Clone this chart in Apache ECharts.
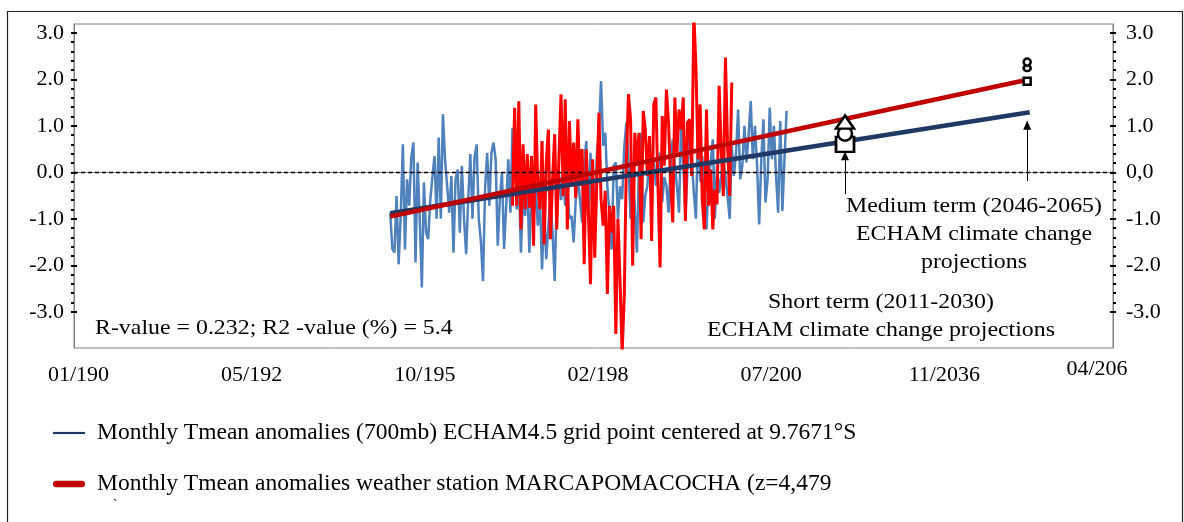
<!DOCTYPE html>
<html>
<head>
<meta charset="utf-8">
<script src="https://cdn.jsdelivr.net/npm/echarts@6/dist/echarts.min.js"></script>
<style>
  html, body { margin: 0; padding: 0; background: #fff; }
  #chart { width: 1184px; height: 522px; }
</style>
</head>
<body>
<div id="chart"></div>
<script>
// x axis: days since 01/01/1900, one label every 10000 days
const xTickLabels = ["01/190", "05/192", "10/195", "02/198", "07/200", "11/2036", "04/206"];
const yTicks = [-3, -2, -1, 0, 1, 2, 3];
const yMinorTicks = [-3, -2.8, -2.6, -2.4, -2.2, -2, -1.8, -1.6, -1.4, -1.2, -1, -0.8, -0.6, -0.4, -0.2, 0,
  0.2, 0.4, 0.6, 0.8, 1, 1.2, 1.4, 1.6, 1.8, 2, 2.2, 2.4, 2.6, 2.8, 3];

const blueName = "Monthly Tmean anomalies (700mb) ECHAM4.5 grid point centered at 9.7671°S";
const redName = "Monthly Tmean anomalies weather station MARCAPOMACOCHA (z=4,479";

// ECHAM4.5 anomalies, every 4 months from 01/1950
const blueStart = [1950, 1];
const blueStepMonths = 4;
const blueValues = [
  -0.87, -1.65, -1.73, -0.51, -1.98, -0.9, 0.6, -1.66, -0.15, -0.72, 0.32, 0.64, -1.94, 0.21, -1.0, -2.48,
  -0.22, -1.3, -1.44, -0.6, -0.11, 0.35, -1.0, 0.75, -1.0, 1.25, 0.28, -0.3, -0.87, -0.08, -1.73, -0.15,
  0.06, -1.3, 0.14, -1.0, -1.76, -0.58, 0.39, -1.0, 0.32, 0.6, -1.0, -1.48, -2.34, -0.33, 0.42,
  -0.72, 0.42, 0.64, 0.28, -1.58, -0.58, 0.0, -1.65, -0.72, 0.28,
  -0.87, 0.96, 0.71, -0.8, -0.1, -1.73, -0.5, -0.94, -0.2, -1.73,
  -0.44, -1.0, -0.3, -1.15, -0.5, -2.09, -0.8, -1.87, -1.15, -0.6,
  -1.3, -2.34, -0.5, 0.0, -0.6, -0.15, -0.72, -0.3, -1.0, -0.94,
  -1.51, -0.6, -0.08, -0.6, -1.08, 0.2, 0.67, -1.0, 0.42, -1.0,
  -1.0, 0.35, 0.9, 1.96, 0.57, 0.85, -0.3, -0.9, -1.66, 0.14,
  0.21, -1.0, -0.3, -0.58, 0.53, 1.07, 0.2, -1.0, 0.06, -0.8,
  -1.73, 0.2, 0.85, -1.08, -0.5, -0.29, 0.57, 0.1, 0.28, -0.29,
  0.1, 0.42, -0.65, -0.1, -0.29, -0.87, 0.2, 0.71, 0.14, -0.3,
  -0.87, 1.14, 0.2, -1.0, 0.1, 1.07, 0.3, -0.44, -1.0, 1.0, -0.2,
  0.35, -0.6, -1.23, -0.15, 0.21, 0.71, -1.0, 0.14, -0.44, -0.1,
  0.28, -0.08, -0.5, -1.0, 0.57, -0.08, 0.4, 1.35, -0.15, 0.14,
  1.0, 0.21, 0.8, 1.53, 0.28, 1.0, 0.14, -1.12, 0.28, 1.14,
  -0.65, -0.15, 1.39, 0.28, 1.0, -0.08, -0.87, 1.1, -0.83, 0.28, 1.32
];

// station anomalies, every 4 months from 05/1969
const redStart = [1969, 5];
const redStepMonths = 4;
const redValues = [
  -0.72, 1.39, -0.72, 1.53, -1.23, 0.6, -0.79, 0.39, -0.76, 0.35,
  -1.58, 1.46, -0.29, -0.79, 0.67, -1.55, 0.2, 0.92, -1.44, -0.15,
  0.82, -1.23, 0.3, 1.68, -0.51, 1.57, -1.23, 1.1, -0.29, 0.64,
  -0.55, 1.14, -0.29, 0.5, -1.98, 0.49, -0.87, -2.41, 0.28, -1.84,
  -0.2, 1.28, -0.58, -1.15, -0.4, -2.62, -0.72, -1.3, -0.72, -3.48,
  -1.0, -2.3, -3.9, -2.66, 0.2, 1.68, 1.14, -2.01, 0.85, 0.2,
  0.85, -1.44, 1.32, 0.92, -0.08, 0.78, -1.48, 1.46, 1.61, -0.3,
  -2.05, 1.21, 0.14, 1.78, 1.07, -0.2, -1.08, 1.61, 0.42, 1.35,
  0.92, 1.61, -1.05, 1.07, 1.14, -0.08, 3.4, 2.3, 0.28, 1.46,
  -0.58, -1.23, 1.35, -0.72, 0.06, -1.23, -0.37, -0.69, 1.86, 0.5,
  -0.51, 2.47, 0.57, -0.51, 1.93
];

// linear trends [year, value]
const blueTrend = [[1950.0, -0.88], [2051.1, 1.29]];
const redTrend = [[1950.0, -0.95], [2051.1, 2.0]];

// ECHAM projections
const shortTermYear = 2021.9;
const shortTermValues = { square: 0.6, circle: 0.83, triangle: 1.08 };
const mediumTermYear = 2050.7;
const mediumTermValues = { square: 1.96, triangle: 2.24, circle: 2.37 };
// [year, from, to]
const arrows = [[2021.9, -0.47, 0.44], [2050.7, -0.19, 1.1]];

const font = "Liberation Serif";
const stretch = 1.085;

const dayMs = 86400000;
const origin = Date.UTC(1900, 0, 1);
const monthToDays = (y, m) => (Date.UTC(y, m - 1, 1) - origin) / dayMs;
const yearToDays = (y) => (y - 1900) * 365.25;

const monthly = (start, step, values) =>
  values.map((v, i) => [monthToDays(start[0], start[1] + i * step), v]);

const blueData = monthly(blueStart, blueStepMonths, blueValues);
const redData = monthly(redStart, redStepMonths, redValues);

const chart = echarts.init(document.getElementById("chart"));

const yBase = {
  type: "value",
  min: -3.78,
  max: 3.19,
  splitLine: { show: false }
};

const marker = (year, value, symbol, size) => ({
  value: [yearToDays(year), value],
  symbol: symbol,
  symbolSize: size
});

const note = (x, y, text, align) => ({
  type: "text",
  silent: true,
  x: x,
  y: y,
  scaleX: stretch,
  style: {
    text: text,
    font: "22px " + font,
    fill: "#000",
    align: align,
    verticalAlign: "top",
    lineHeight: 28
  }
});

const option = {
  animation: false,
  backgroundColor: "#fff",
  grid: {
    left: 74,
    right: 71,
    top: 24,
    bottom: 174,
    show: true,
    borderColor: "#808080",
    borderWidth: 1
  },
  xAxis: {
    type: "value",
    min: 0,
    max: 60000,
    interval: 10000,
    axisLine: { show: true, lineStyle: { color: "#808080", width: 1 } },
    axisTick: { show: false },
    splitLine: { show: false },
    axisLabel: {
      fontFamily: font,
      fontSize: 22,
      color: "#000",
      margin: 16,
      padding: [0, 0, 0, 9],
      formatter: (v) => (v >= 60000 ? "" : xTickLabels[Math.round(v / 10000)])
    }
  },
  yAxis: [
    Object.assign({}, yBase, {
      position: "left",
      axisLine: { show: true, lineStyle: { color: "#808080", width: 1 } },
      axisTick: { show: true, customValues: yMinorTicks, length: 3, lineStyle: { color: "#000", width: 2 } },
      axisLabel: {
        customValues: yTicks,
        fontFamily: font, fontSize: 22, color: "#000", margin: 10,
        formatter: (v) => v.toFixed(1)
      }
    }),
    Object.assign({}, yBase, {
      position: "right",
      axisLine: { show: true, lineStyle: { color: "#808080", width: 1 } },
      axisTick: { show: true, customValues: yMinorTicks, length: 3, lineStyle: { color: "#000", width: 2 } },
      axisLabel: {
        customValues: yTicks,
        fontFamily: font, fontSize: 22, color: "#000", margin: 13,
        formatter: (v) => (v === 0 ? "0,0" : v.toFixed(1))
      }
    }),
    Object.assign({}, yBase, {
      position: "left",
      axisLine: { show: false },
      axisTick: { show: true, inside: true, customValues: yTicks, length: 3, lineStyle: { color: "#000", width: 2 } },
      axisLabel: { show: false }
    }),
    Object.assign({}, yBase, {
      position: "right",
      axisLine: { show: false },
      axisTick: { show: true, inside: true, customValues: yTicks, length: 3, lineStyle: { color: "#000", width: 2 } },
      axisLabel: { show: false }
    })
  ],
  legend: {
    orient: "vertical",
    left: 48,
    top: 416,
    itemWidth: 32,
    itemHeight: 22,
    itemGap: 27,
    selectedMode: false,
    textStyle: { fontFamily: font, fontSize: 23.5, color: "#000", padding: [0, 0, 0, 7] },
    data: [
      { name: blueName, icon: "path://M0,0H30V2H0Z", itemStyle: { color: "#1f3864" } },
      { name: redName, icon: "path://M3,0H27A3,3,0,0,1,27,6H3A3,3,0,0,1,3,0Z", itemStyle: { color: "#c00000" } }
    ]
  },
  series: [
    {
      name: blueName,
      type: "line",
      data: blueData,
      showSymbol: false,
      symbol: "none",
      z: 2,
      lineStyle: { color: "#4f81bd", width: 2.5 },
      itemStyle: { color: "#4f81bd" },
      markLine: {
        silent: true,
        symbol: "none",
        label: { show: false },
        lineStyle: { color: "#000", width: 1.3, type: [4, 3] },
        data: [{ yAxis: 0 }]
      }
    },
    {
      name: redName,
      type: "line",
      data: redData,
      showSymbol: false,
      symbol: "none",
      z: 3,
      lineStyle: { color: "#ff0000", width: 3 },
      itemStyle: { color: "#ff0000" }
    },
    {
      name: "blue trend",
      type: "line",
      data: blueTrend.map((p) => [yearToDays(p[0]), p[1]]),
      showSymbol: false,
      symbol: "none",
      silent: true,
      z: 4,
      lineStyle: { color: "#1f3864", width: 4.5 }
    },
    {
      name: "red trend",
      type: "line",
      data: redTrend.map((p) => [yearToDays(p[0]), p[1]]),
      showSymbol: false,
      symbol: "none",
      silent: true,
      z: 5,
      lineStyle: { color: "#c00000", width: 4.5 }
    },
    {
      name: "arrows",
      type: "line",
      data: [],
      silent: true,
      z: 6,
      itemStyle: { color: "#000" },
      lineStyle: { color: "#000" },
      markLine: {
        silent: true,
        symbol: ["none", "triangle"],
        symbolSize: [8, 9],
        symbolOffset: [0, [0, 4]],
        label: { show: false },
        itemStyle: { color: "#000" },
        lineStyle: { color: "#000", width: 1, type: "solid" },
        data: arrows.map((a) => [
          { coord: [yearToDays(a[0]), a[1]] },
          { coord: [yearToDays(a[0]), a[2]] }
        ])
      }
    },
    {
      name: "projections",
      type: "scatter",
      z: 7,
      silent: true,
      itemStyle: { color: "#fff", borderColor: "#000", borderWidth: 2.5, opacity: 1 },
      data: [
        marker(shortTermYear, shortTermValues.square, "rect", [18, 15]),
        marker(shortTermYear, shortTermValues.circle, "circle", 14),
        marker(shortTermYear, shortTermValues.triangle, "triangle", [18, 13]),
        marker(mediumTermYear, mediumTermValues.square, "rect", [7, 7]),
        marker(mediumTermYear, mediumTermValues.triangle, "circle", [7, 6]),
        marker(mediumTermYear, mediumTermValues.circle, "circle", 7)
      ]
    }
  ],
  graphic: [
    {
      type: "rect",
      silent: true,
      shape: { x: 7.5, y: 11.5, width: 1175, height: 520 },
      style: { fill: "none", stroke: "#222", lineWidth: 1.2 }
    },
    note(95, 314, "R-value = 0.232; R2 -value (%) = 5.4", "left"),
    note(974, 192, "Medium term (2046-2065)\nECHAM climate change\nprojections", "center"),
    note(881, 288, "Short term (2011-2030)\nECHAM climate change projections", "center"),
    {
      type: "text", silent: true, x: 1097, y: 369,
      style: { text: xTickLabels[6], font: "22px " + font, fill: "#000", align: "center", verticalAlign: "middle" }
    },
    {
      type: "text", silent: true, x: 115, y: 505,
      style: { text: "`", font: "14px " + font, fill: "#000", align: "center", verticalAlign: "middle" }
    }
  ]
};

chart.setOption(option);
window.addEventListener("resize", () => chart.resize());
</script>
</body>
</html>
